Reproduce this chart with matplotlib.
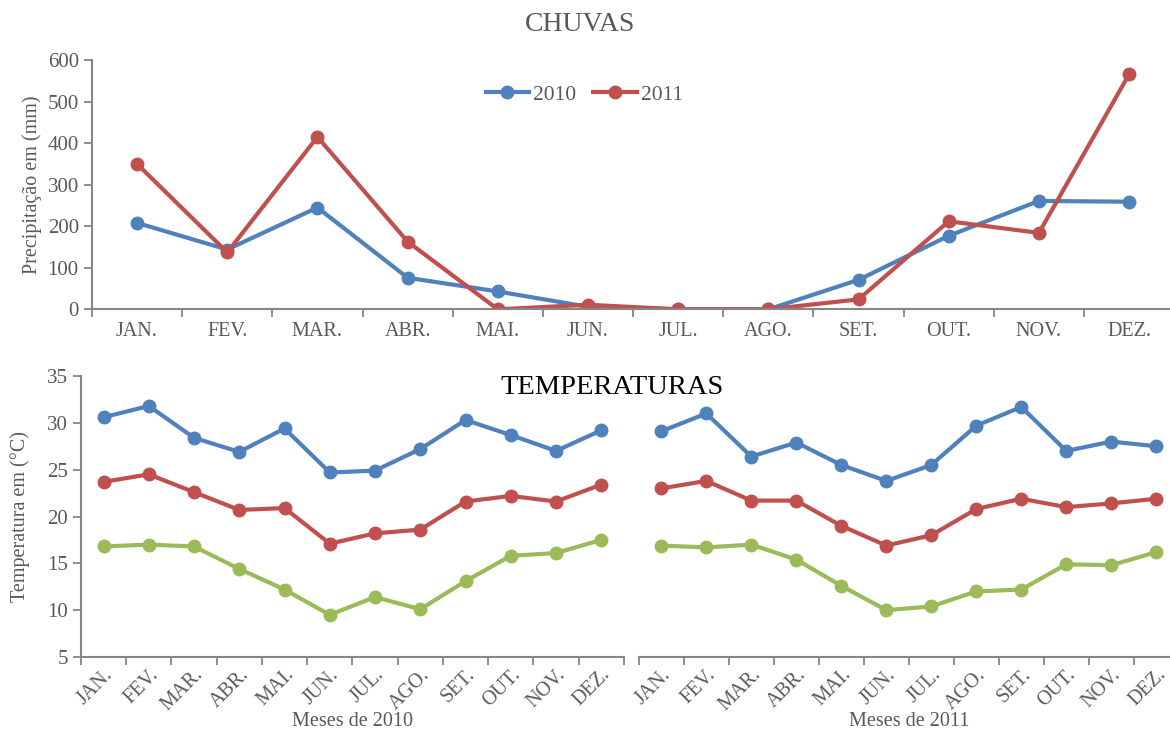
import matplotlib
matplotlib.use("Agg")
import matplotlib.pyplot as plt
import numpy as np

# monthly labels
meses = ['JAN.', 'FEV.', 'MAR.', 'ABR.', 'MAI.', 'JUN.',
         'JUL.', 'AGO.', 'SET.', 'OUT.', 'NOV.', 'DEZ.']

# precipitation (mm)
chuva_2010 = [208, 144, 245, 76, 43, 6, 0, 0, 71, 177, 261, 259]
chuva_2011 = [350, 137, 415, 163, 0, 11, 0, 0, 24, 212, 184, 566]

# temperatures (C): max, mean, min
tmax_2010 = [30.6, 31.8, 28.4, 26.9, 29.4, 24.7, 24.9, 27.2, 30.3, 28.7, 27.0, 29.2]
tmed_2010 = [23.7, 24.5, 22.6, 20.7, 20.9, 17.1, 18.2, 18.6, 21.6, 22.2, 21.6, 23.4]
tmin_2010 = [16.8, 17.0, 16.8, 14.4, 12.2, 9.5, 11.4, 10.1, 13.1, 15.8, 16.1, 17.5]

tmax_2011 = [29.1, 31.0, 26.4, 27.9, 25.5, 23.8, 25.5, 29.7, 31.7, 27.0, 28.0, 27.5]
tmed_2011 = [23.0, 23.8, 21.7, 21.7, 19.0, 16.9, 18.0, 20.8, 21.9, 21.0, 21.4, 21.9]
tmin_2011 = [16.9, 16.7, 17.0, 15.4, 12.6, 10.0, 10.4, 12.0, 12.2, 14.9, 14.8, 16.2]

azul = '#4F81BD'
verm = '#C0504D'
verde = '#9BBB59'
cinza = '#595959'
eixo = '#868686'

plt.rcParams['font.family'] = ['Liberation Serif', 'DejaVu Serif']
plt.rcParams['font.size'] = 14

x = np.arange(12)
linha = dict(lw=3, marker='o', ms=9)

fig = plt.figure(figsize=(11.7, 7.33), dpi=100)


def estilo(ax, rot=0, esquerda=True):
    for s in ['top', 'right']:
        ax.spines[s].set_visible(False)
    ax.spines['bottom'].set_color(eixo)
    ax.spines['left'].set_color(eixo)
    ax.spines['bottom'].set_linewidth(1.5)
    ax.spines['left'].set_linewidth(1.5)
    if not esquerda:
        ax.spines['left'].set_visible(False)
        ax.tick_params(axis='y', left=False, labelleft=False)
    ax.set_xlim(-0.5, 11.5)
    # ticks on the category boundaries, labels in between
    ax.set_xticks(np.arange(-0.5, 12, 1))
    ax.set_xticklabels([])
    ax.set_xticks(x, minor=True)
    if rot:
        ax.set_xticklabels(meses, minor=True, rotation=rot, ha='right',
                           rotation_mode='anchor', color=cinza)
        pad = 6
    else:
        ax.set_xticklabels(meses, minor=True, color=cinza)
        pad = 9
    ax.tick_params(axis='x', which='major', direction='out', length=6,
                   width=1.3, color=eixo)
    ax.tick_params(axis='x', which='minor', length=0, pad=pad, labelsize=14.5)
    ax.tick_params(axis='y', direction='out', length=6, width=1.3,
                   color=eixo, labelcolor=cinza, labelsize=15)


# top: rainfall
ax1 = fig.add_axes([0.0786, 0.578, 0.925, 0.34])
ax1.plot(x, chuva_2010, color=azul, label='2010', **linha)
ax1.plot(x, chuva_2011, color=verm, label='2011', **linha)
ax1.set_ylim(0, 600)
ax1.set_yticks(np.arange(0, 601, 100))
estilo(ax1)
ax1.set_ylabel('Precipitação em (mm)', color=cinza, fontsize=14.5, labelpad=4)
ax1.legend(loc='upper center', bbox_to_anchor=(0.455, 0.98), ncol=2,
           frameon=False, fontsize=15.5, labelcolor=cinza, handlelength=2.0,
           columnspacing=0.8, handletextpad=0.2)
fig.text(0.496, 0.966, 'CHUVAS', ha='center', va='center', fontsize=20,
         color=cinza)

# bottom: temperatures
ax2 = fig.add_axes([0.0692, 0.1037, 0.464, 0.3833])
ax2.plot(x, tmax_2010, color=azul, **linha)
ax2.plot(x, tmed_2010, color=verm, **linha)
ax2.plot(x, tmin_2010, color=verde, **linha)
ax2.set_ylim(5, 35)
ax2.set_yticks(np.arange(5, 36, 5))
estilo(ax2, rot=45)
ax2.set_ylabel('Temperatura em (°C)', color=cinza, fontsize=14.5, labelpad=12)
ax2.set_xlabel('Meses de 2010', color=cinza, fontsize=14.5, labelpad=-2)

ax3 = fig.add_axes([0.546, 0.1037, 0.4615, 0.3833])
ax3.plot(x, tmax_2011, color=azul, **linha)
ax3.plot(x, tmed_2011, color=verm, **linha)
ax3.plot(x, tmin_2011, color=verde, **linha)
ax3.set_ylim(5, 35)
estilo(ax3, rot=45, esquerda=False)
ax3.set_xlabel('Meses de 2011', color=cinza, fontsize=14.5, labelpad=-2)

fig.text(0.523, 0.471, 'TEMPERATURAS', ha='center', va='center',
         fontsize=20.5, color='black')

fig.savefig('out.png', dpi=100)
